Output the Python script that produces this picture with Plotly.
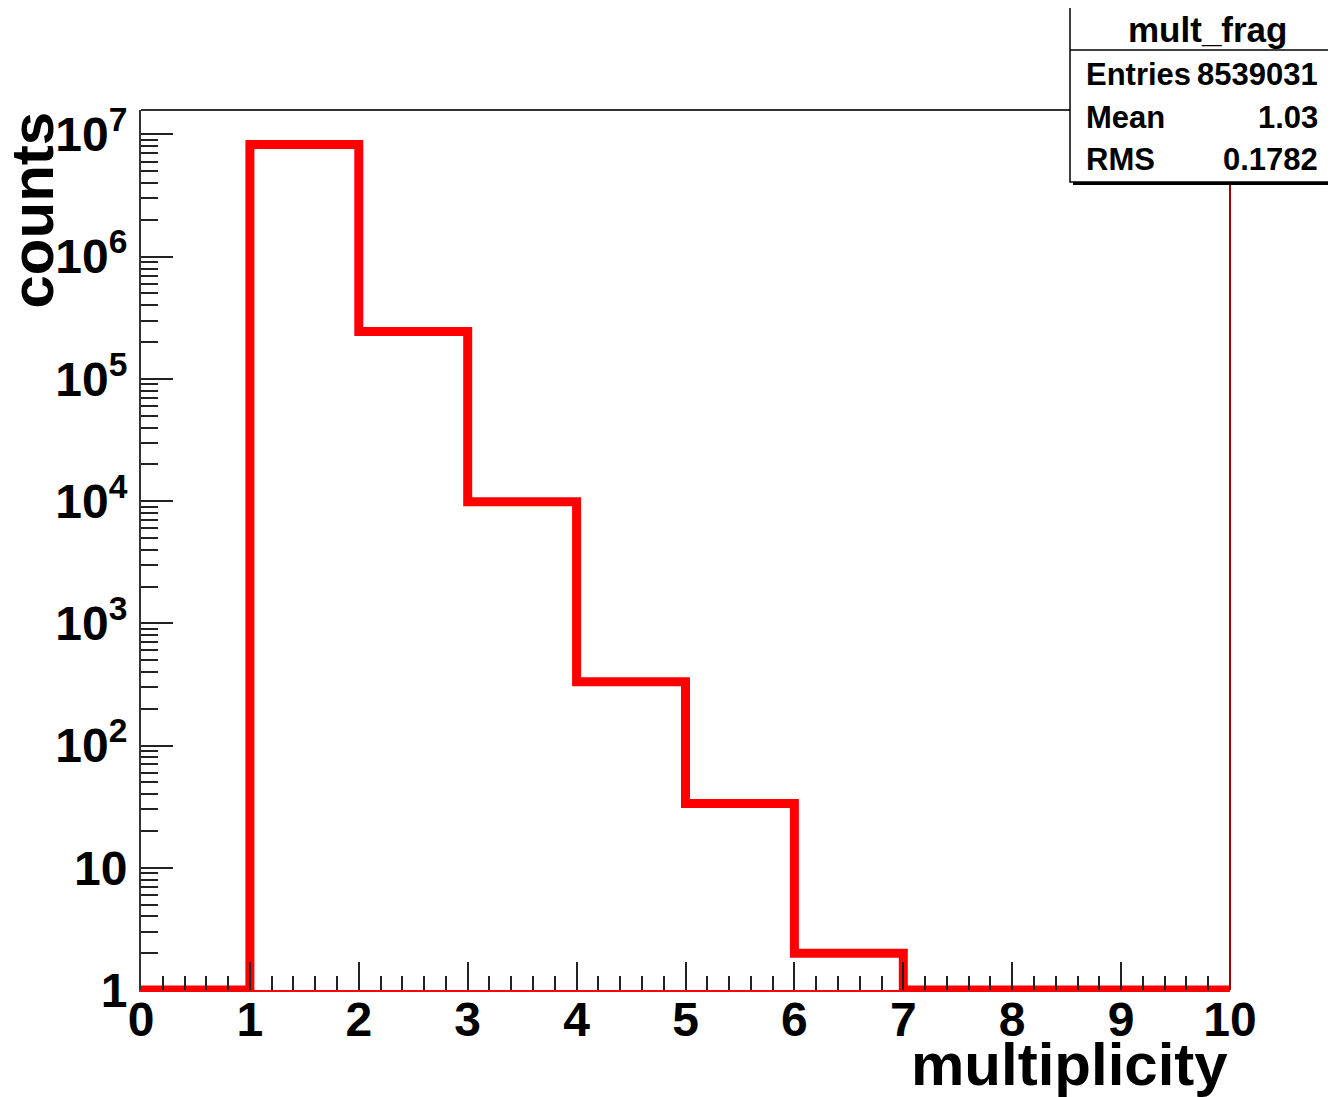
import plotly.graph_objects as go

# ---- data ----
bin_edges = [0, 1, 2, 3, 4, 5, 6, 7, 8, 9, 10]
counts = [0, 8280000, 244000, 9860, 332, 33.5, 2, 0, 0, 0]
y_tick_vals = [1, 10, 100, 1000, 10000, 100000, 1000000, 10000000]
y_tick_text = ["1", "10", "10<sup>2</sup>", "10<sup>3</sup>", "10<sup>4</sup>",
               "10<sup>5</sup>", "10<sup>6</sup>", "10<sup>7</sup>"]
x_tick_vals = [0, 1, 2, 3, 4, 5, 6, 7, 8, 9, 10]
stats_title = "mult_frag"
stats_labels = ["Entries", "Mean", "RMS"]
stats_values = ["8539031", "1.03", "0.1782"]

FONT = "Liberation Sans"
y_min = 1  # log axis floor; empty bins drawn at it (as ROOT does)

draw_y = [c if c > 0 else y_min for c in counts]
xs = bin_edges
ys = draw_y + [draw_y[-1]]

fig = go.Figure()
fig.add_trace(go.Scatter(
    x=xs, y=ys, mode="lines", line=dict(color="#ff0000", width=9, shape="hv"),
    hoverinfo="skip", showlegend=False))

minor_y = [m * d for d in y_tick_vals for m in range(2, 10)]

# page body adds an 8px offset; figure is sized so the plot area lands at 141..1230 x 110..990
fig.update_layout(
    width=1328, height=1089,
    margin=dict(l=133, r=106, t=102, b=107),
    paper_bgcolor="white", plot_bgcolor="white",
    showlegend=False,
    font=dict(family=FONT, color="black"),
    xaxis=dict(
        range=[0, 10], tickvals=x_tick_vals, ticktext=[str(v) for v in x_tick_vals],
        ticks="inside", ticklen=28, tickwidth=2, tickcolor="#222222",
        minor=dict(dtick=0.2, ticks="inside", ticklen=14, tickwidth=2, tickcolor="#222222"),
        showline=True, linecolor="#ff0000", linewidth=2,
        showgrid=False, zeroline=False,
        tickfont=dict(family=FONT, size=48, color="black", weight="bold"),
        ticklabelstandoff=-14,
    ),
    yaxis=dict(
        type="log", range=[0, 7.2],
        tickvals=y_tick_vals, ticktext=y_tick_text,
        ticks="inside", ticklen=32, tickwidth=2, tickcolor="#222222",
        minor=dict(tickvals=minor_y, ticks="inside", ticklen=17, tickwidth=2, tickcolor="#222222"),
        showline=True, linecolor="#333333", linewidth=2,
        showgrid=False, zeroline=False,
        tickfont=dict(family=FONT, size=48, color="black", weight="bold"),
        ticklabelstandoff=2,
    ),
)

def px_x(p):
    return (p - 141) / 1089.0

def px_y(p):
    return (990 - p) / 880.0

shapes = [
    # frame top and right
    dict(type="line", xref="paper", yref="paper", x0=0, x1=1, y0=1, y1=1,
         line=dict(color="#333333", width=2)),
    dict(type="line", xref="paper", yref="paper", x0=1, x1=1, y0=0, y1=1,
         line=dict(color="#a00000", width=2)),
    # stats box shadow + box
    dict(type="rect", xref="paper", yref="paper",
         x0=px_x(1073), x1=px_x(1345), y0=px_y(185), y1=px_y(10),
         line=dict(width=0), fillcolor="black"),
    dict(type="rect", xref="paper", yref="paper",
         x0=px_x(1070), x1=px_x(1333), y0=px_y(182), y1=px_y(7),
         line=dict(color="black", width=1.5), fillcolor="white"),
    dict(type="line", xref="paper", yref="paper",
         x0=px_x(1070), x1=px_x(1333), y0=px_y(50), y1=px_y(50),
         line=dict(color="black", width=1.5)),
]
fig.update_layout(shapes=shapes)

ann = []
ann.append(dict(text="<b>counts</b>", xref="paper", yref="paper",
                x=px_x(32), y=1.0, xanchor="center", yanchor="top", textangle=-90,
                showarrow=False, font=dict(family=FONT, size=60, color="black")))
ann.append(dict(text="<b>multiplicity</b>", xref="paper", yref="paper",
                x=1.0, y=px_y(1064), xanchor="right", yanchor="middle",
                showarrow=False, font=dict(family=FONT, size=60, color="black")))
ann.append(dict(text="<b>" + stats_title + "</b>", xref="paper", yref="paper",
                x=px_x(1207), y=px_y(29), xanchor="center", yanchor="middle",
                showarrow=False, font=dict(family=FONT, size=35, color="black")))
row_y = [75, 118, 160]
for lab, val, ry in zip(stats_labels, stats_values, row_y):
    ann.append(dict(text="<b>" + lab + "</b>", xref="paper", yref="paper",
                    x=px_x(1084), y=px_y(ry), xanchor="left", yanchor="middle",
                    showarrow=False, font=dict(family=FONT, size=31, color="black")))
    ann.append(dict(text="<b>" + val + "</b>", xref="paper", yref="paper",
                    x=px_x(1320), y=px_y(ry), xanchor="right", yanchor="middle",
                    showarrow=False, font=dict(family=FONT, size=31, color="black")))
fig.update_layout(annotations=ann)

fig.write_html("out.html")
